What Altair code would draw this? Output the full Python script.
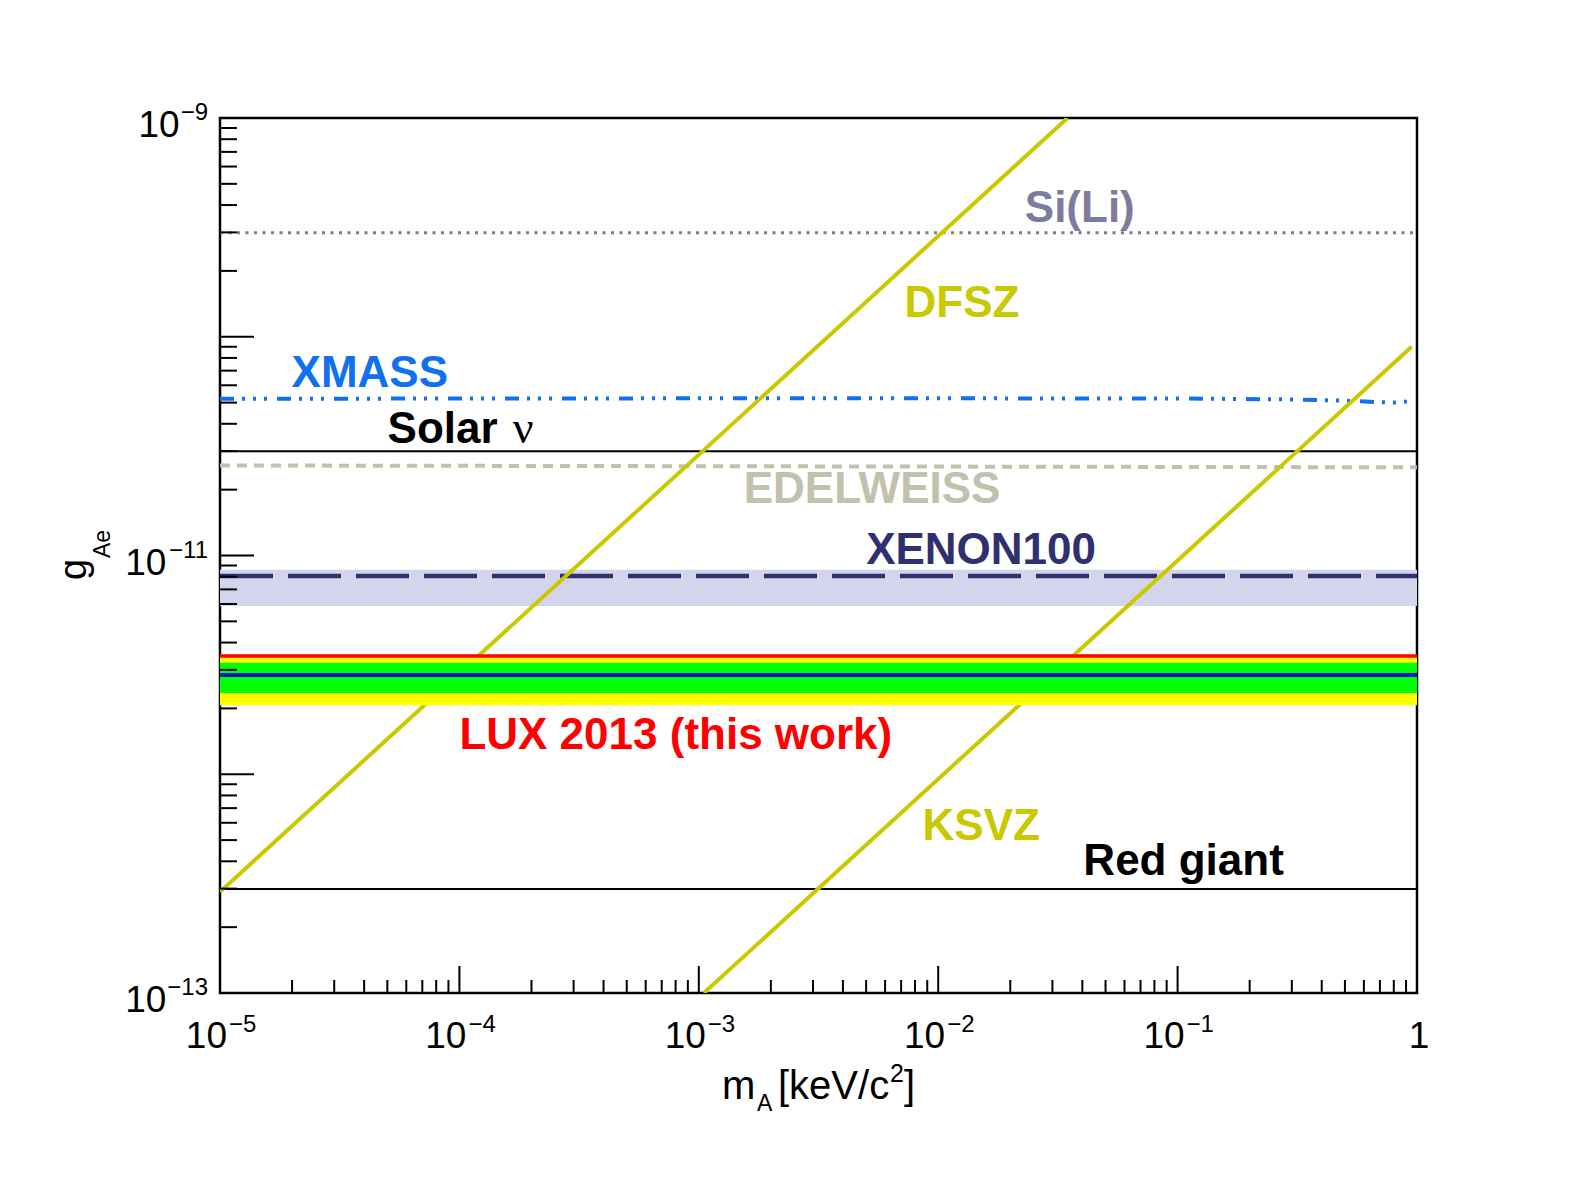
import altair as alt
import pandas as pd

# ---------------- data ----------------
m_range = [1e-5, 1.0]

sili_g = 2.99e-10
solar_g = 3.0e-11
redgiant_g = 2.99e-13

xmass_m = [1e-5, 1e-4, 1e-3, 1e-2, 0.1, 0.3, 0.5, 0.7, 0.8, 0.9, 1.0]
xmass_g = [5.2e-11, 5.22e-11, 5.23e-11, 5.23e-11, 5.22e-11, 5.17e-11,
           5.1e-11, 5.02e-11, 5.0e-11, 5.06e-11, 5.13e-11]

edelweiss_m = [1e-5, 1.0]
edelweiss_g = [2.58e-11, 2.53e-11]

xenon_g = 8.06e-12
xenon_band = [8.6e-12, 5.88e-12]

lux_limit = 3.47e-12
lux_yellow = [3.43e-12, 2.07e-12]
lux_green = [3.23e-12, 2.35e-12]
lux_median = 2.84e-12

dfsz_m = [1e-5, 0.0347]
dfsz_g = [2.9e-13, 1e-9]
ksvz_m = [1.05e-3, 0.95]
ksvz_g = [1e-13, 9.0e-11]

label_text = ["Si(Li)", "DFSZ", "XMASS", "Solar", "EDELWEISS", "XENON100",
              "LUX 2013 (this work)", "KSVZ", "Red giant"]
label_m = [0.0230, 7.23e-3, 1.99e-5, 5.01e-5, 1.54e-3, 5.0e-3, 1.0e-4, 8.6e-3, 0.0404]
label_g = [3.35e-10, 1.23e-10, 5.89e-11, 3.27e-11, 1.74e-11, 9.14e-12, 1.31e-12, 5.0e-13, 3.47e-13]
label_color = ["#7d7c9f", "#c9c900", "#1070f0", "#000000", "#c1c1ad", "#303070",
               "#ff0000", "#c9c900", "#000000"]
nu_m = 1.67e-4
nu_g = 3.27e-11

x_decades = [1e-5, 1e-4, 1e-3, 1e-2, 1e-1]
x_exps = ["−5", "−4", "−3", "−2", "−1"]
y_label_vals = [1e-9, 1e-11, 1e-13]
y_label_exps = ["−9", "−11", "−13"]

# ---------------- helpers ----------------
W, H = 1197, 875
FONT = "Liberation Sans"
xs = alt.Scale(type="log", domain=[1e-5, 1.0], nice=False)
ys = alt.Scale(type="log", domain=[1e-13, 1e-9], nice=False)
X = lambda f="m": alt.X(f"{f}:Q", scale=xs, axis=None)
Y = lambda f="g": alt.Y(f"{f}:Q", scale=ys, axis=None)


def line(m, g, color, width, dash=None):
    df = pd.DataFrame({"m": m, "g": g})
    kw = dict(color=color, strokeWidth=width, clip=True)
    if dash:
        kw["strokeDash"] = dash
    return alt.Chart(df).mark_line(**kw).encode(x=X(), y=Y())


def band(g_pair, color):
    df = pd.DataFrame({"m": [m_range[0]], "m2": [m_range[1]],
                       "g": [g_pair[0]], "g2": [g_pair[1]]})
    return alt.Chart(df).mark_rect(color=color).encode(
        x=X(), x2="m2:Q", y=Y(), y2="g2:Q")


layers = []
layers.append(band(xenon_band, "#d3d5ec"))
layers.append(line(m_range, [sili_g, sili_g], "#7d7c9f", 3, [3, 5.5]))
layers.append(line(xmass_m, xmass_g, "#1070f0", 4, [14, 8, 3, 8, 3, 8, 3, 10]))
layers.append(line(m_range, [solar_g, solar_g], "#000000", 2))
layers.append(line(edelweiss_m, edelweiss_g, "#c1c1ad", 4, [10, 7]))
layers.append(line(m_range, [xenon_g, xenon_g], "#303070", 4.5, [53, 15]))
layers.append(line(m_range, [redgiant_g, redgiant_g], "#000000", 2))
layers.append(line(dfsz_m, dfsz_g, "#c9c900", 4))
layers.append(line(ksvz_m, ksvz_g, "#c9c900", 4))
layers.append(band(lux_yellow, "#ffff00"))
layers.append(band(lux_green, "#00ff00"))
layers.append(line(m_range, [lux_median, lux_median], "#0a14c8", 4))
layers.append(line(m_range, [lux_limit, lux_limit], "#ff0000", 3.5))

# in-plot labels
lab = pd.DataFrame({"label": label_text, "m": label_m, "g": label_g, "color": label_color})
layers.append(alt.Chart(lab).mark_text(
    align="left", baseline="alphabetic", fontSize=44, fontWeight="bold", font=FONT
).encode(x=X(), y=Y(), text="label:N", color=alt.Color("color:N", scale=None)))
layers.append(alt.Chart(pd.DataFrame({"m": [nu_m], "g": [nu_g], "t": ["ν"]})).mark_text(
    align="left", baseline="alphabetic", fontSize=46, font="Liberation Serif", color="black"
).encode(x=X(), y=Y(), text="t:N"))

# ---------------- axes (ROOT style, inward ticks) ----------------
x_minor = [k * d for d in x_decades for k in range(2, 10)]
y_decades = [1e-13, 1e-12, 1e-11, 1e-10, 1e-9]
y_minor = [k * d for d in y_decades[:-1] for k in range(2, 10)]

layers.append(alt.Chart(pd.DataFrame({"m": x_decades + [1.0]})).mark_rule(
    color="black", strokeWidth=2).encode(x=X(), y=alt.value(H), y2=alt.value(H - 27)))
layers.append(alt.Chart(pd.DataFrame({"m": x_minor})).mark_rule(
    color="black", strokeWidth=2).encode(x=X(), y=alt.value(H), y2=alt.value(H - 13)))
layers.append(alt.Chart(pd.DataFrame({"g": y_decades})).mark_rule(
    color="black", strokeWidth=2).encode(y=Y(), x=alt.value(0), x2=alt.value(34)))
layers.append(alt.Chart(pd.DataFrame({"g": y_minor})).mark_rule(
    color="black", strokeWidth=2).encode(y=Y(), x=alt.value(0), x2=alt.value(17)))

# x tick labels
xl = pd.DataFrame({"m": x_decades, "base": ["10"] * len(x_decades), "exp": x_exps})
layers.append(alt.Chart(xl).mark_text(
    align="right", baseline="alphabetic", fontSize=37, font=FONT, dx=7, color="black"
).encode(x=X(), y=alt.value(H + 55), text="base:N"))
layers.append(alt.Chart(xl).mark_text(
    align="left", baseline="alphabetic", fontSize=24, font=FONT, dx=9, color="black"
).encode(x=X(), y=alt.value(H + 39), text="exp:N"))
layers.append(alt.Chart(pd.DataFrame({"m": [1.0], "t": ["1"]})).mark_text(
    align="center", baseline="alphabetic", fontSize=37, font=FONT, dx=2, color="black"
).encode(x=X(), y=alt.value(H + 55), text="t:N"))

# y tick labels
for gv, ex in zip(y_label_vals, y_label_exps):
    ndig = len(ex) - 1
    expw = (0.584 + 0.556 * ndig) * 24
    d = pd.DataFrame({"g": [gv], "base": ["10"], "exp": [ex]})
    layers.append(alt.Chart(d).mark_text(
        align="right", baseline="alphabetic", fontSize=24, font=FONT, dy=2, color="black"
    ).encode(y=Y(), x=alt.value(-12), text="exp:N"))
    layers.append(alt.Chart(d).mark_text(
        align="right", baseline="alphabetic", fontSize=37, font=FONT, dy=19, color="black"
    ).encode(y=Y(), x=alt.value(-13 - expw), text="base:N"))

# axis titles (with sub/superscripts)
def ptext(t, x, y, size, angle=0):
    kw = dict(align="left", baseline="alphabetic", fontSize=size, font=FONT, color="black")
    if angle:
        kw["angle"] = angle
    return alt.Chart(pd.DataFrame({"t": [t]})).mark_text(**kw).encode(
        text="t:N", x=alt.value(x), y=alt.value(y))

layers.append(ptext("m", 502, 981, 40))
layers.append(ptext("A", 537, 993, 23))
layers.append(ptext("[keV/c", 558, 981, 40))
layers.append(ptext("2", 670, 964, 25))
layers.append(ptext("]", 684, 981, 40))
layers.append(ptext("g", -134, 462, 38, 270))
layers.append(ptext("Ae", -110, 440, 23, 270))

chart = alt.layer(*layers).properties(
    width=W, height=H,
    autosize=alt.AutoSizeParams(type="none"),
    padding={"left": 212, "top": 110, "right": 110, "bottom": 140},
    background="white",
).configure_view(stroke="black", strokeWidth=2.5)

chart.save("out.html", embed_options={"renderer": "svg", "actions": False})
